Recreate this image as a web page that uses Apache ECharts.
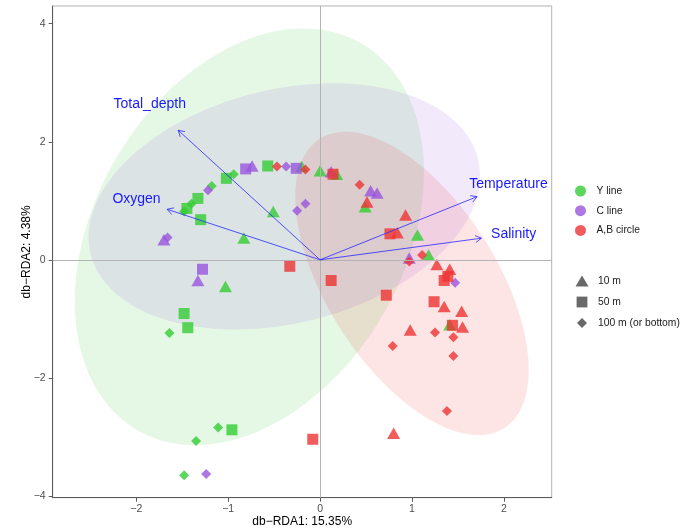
<!DOCTYPE html>
<html>
<head>
<meta charset="utf-8">
<script src="https://cdn.jsdelivr.net/npm/echarts@6/dist/echarts.min.js"></script>
<style>
  html, body { margin: 0; padding: 0; background: #ffffff; }
  #chart { width: 687px; height: 531px; }
</style>
</head>
<body>
<div id="chart"></div>
<script>
// ---- db-RDA site scores, by transect and sampling depth ----
const groupNames = ['Y line', 'C line', 'A,B circle'];
const depthNames = ['10 m', '50 m', '100 m (or bottom)'];

// Y line
const yLine10m = [[-0.20, 1.58], [0.00, 1.51], [0.18, 1.45], [-0.51, 0.82], [-0.83, 0.37],
                  [0.49, 0.90], [1.06, 0.42], [1.18, 0.08], [-1.03, -0.45], [1.41, -1.10]];
const yLine50m = [[-0.57, 1.59], [-1.02, 1.38], [-1.33, 1.04], [-1.45, 0.87], [-1.30, 0.68],
                  [-1.48, -0.91], [-1.44, -1.15], [-0.96, -2.88]];
const yLine100m = [[-0.94, 1.45], [-1.18, 1.25], [-1.40, 0.95], [-1.48, 0.82], [-1.64, -1.24],
                   [-1.11, -2.84], [-1.35, -3.07], [-1.48, -3.65]];

// C line
const cLine10m = [[-0.74, 1.59], [0.12, 1.49], [0.55, 1.17], [0.62, 1.13], [-1.70, 0.34],
                  [-1.33, -0.35], [0.97, 0.03]];
const cLine50m = [[-0.81, 1.54], [-0.26, 1.55], [-1.28, -0.16]];
const cLine100m = [[-0.37, 1.58], [-1.22, 1.18], [-0.25, 0.83], [-0.16, 0.95], [-1.66, 0.38],
                   [1.47, -0.39], [-1.24, -3.63]];

// A,B circle
const abCircle10m = [[0.51, 0.98], [0.93, 0.76], [0.84, 0.46], [1.27, -0.08], [1.41, -0.16],
                     [1.35, -0.79], [1.54, -0.87], [1.55, -1.14], [0.98, -1.19], [0.80, -2.94]];
const abCircle50m = [[0.14, 1.45], [0.76, 0.44], [-0.33, -0.11], [0.12, -0.35], [0.72, -0.60],
                     [1.39, -0.28], [1.35, -0.35], [1.24, -0.71], [1.44, -1.11], [-0.08, -3.04]];
const abCircle100m = [[-0.47, 1.58], [-0.16, 1.53], [0.43, 1.27], [0.97, -0.03], [1.11, 0.08],
                      [1.25, -1.23], [1.45, -1.31], [0.79, -1.46], [1.45, -1.63], [1.38, -2.56]];

// confidence ellipses per group: centre, half-extent along x / y, correlation
const ellipseCx = [-0.77, -0.39, 1.00];
const ellipseCy = [0.39, 0.905, -0.40];
const ellipseSx = [1.90, 2.13, 1.27];
const ellipseSy = [3.53, 2.085, 2.57];
const ellipseR  = [0.31, 0.25, -0.57];

// environmental fitted vectors
const envNames = ['Total_depth', 'Oxygen', 'Temperature', 'Salinity'];
const envX = [-1.545, -1.665, 1.708, 1.755];
const envY = [2.196, 0.856, 1.070, 0.366];

// axes
const xTicks = [-2, -1, 0, 1, 2];
const yTicks = [-4, -2, 0, 2, 4];
const xRange = [-2.91, 2.52];
const yRange = [-4.03, 4.30];

// ---- styling ----
const FONT = '"Liberation Sans", Arial, Helvetica, sans-serif';
const groupColors = ['#33CC33', '#9955DD', '#EE3333'];
const ellipseFill = ['rgba(51,204,51,0.13)', 'rgba(153,85,221,0.13)', 'rgba(238,51,51,0.13)'];
const shapeSymbols = ['triangle', 'rect', 'diamond'];
const shapeSizes = [[13, 11.5], [11, 11], [10, 10]];
const vectorLabelScale = 1.2;
const legendShapeIcons = [
  'path://M0,0M14,14M0.5,12.6L7,1.4L13.5,12.6Z',
  'path://M0,0M14,14M1.6,1.6H12.4V12.4H1.6Z',
  'path://M0,0M14,14M7,2L12,7L7,12L2,7Z'
];

const groupData = [
  [yLine10m, yLine50m, yLine100m],
  [cLine10m, cLine50m, cLine100m],
  [abCircle10m, abCircle50m, abCircle100m]
];

const minusFmt = v => (v < 0 ? '\u2212' + Math.abs(v) : String(v));

const chart = echarts.init(document.getElementById('chart'), null, { renderer: 'canvas' });

const pointSeries = groupNames.map((name, g) => {
  const items = [];
  groupData[g].forEach((pts, d) => {
    pts.forEach(p => items.push({ value: p, symbol: shapeSymbols[d], symbolSize: shapeSizes[d] }));
  });
  return {
    name: name,
    type: 'scatter',
    z: 4,
    data: items,
    itemStyle: { color: groupColors[g], opacity: 0.8 },
    emphasis: { disabled: true }
  };
});

// series that only carry the depth entries of the shape legend
const shapeLegendSeries = depthNames.map(name => ({
  name: name,
  type: 'scatter',
  data: [],
  itemStyle: { color: '#444444' }
}));

const ellipseSeries = {
  type: 'custom',
  z: 1,
  silent: true,
  data: groupNames.map((n, i) => [i]),
  renderItem: function (params, api) {
    const g = params.dataIndex;
    const pts = [];
    const k = Math.sqrt(1 - ellipseR[g] * ellipseR[g]);
    for (let s = 0; s < 120; s++) {
      const t = 2 * Math.PI * s / 120;
      const x = ellipseCx[g] + ellipseSx[g] * Math.cos(t);
      const y = ellipseCy[g] + ellipseSy[g] * (ellipseR[g] * Math.cos(t) + k * Math.sin(t));
      pts.push(api.coord([x, y]));
    }
    return { type: 'polygon', shape: { points: pts }, style: { fill: ellipseFill[g], stroke: null } };
  }
};

const zeroLineSeries = {
  type: 'line',
  z: 2,
  data: [],
  silent: true,
  markLine: {
    silent: true,
    symbol: ['none', 'none'],
    label: { show: false },
    lineStyle: { color: '#b3b3b3', width: 1, type: 'solid' },
    data: [{ xAxis: 0 }, { yAxis: 0 }]
  }
};

const vectorSeries = {
  type: 'custom',
  z: 5,
  silent: true,
  data: envNames.map((n, i) => [envX[i], envY[i]]),
  renderItem: function (params, api) {
    const i = params.dataIndex;
    const vx = api.value(0), vy = api.value(1);
    const o = api.coord([0, 0]);
    const p = api.coord([vx, vy]);
    const ang = Math.atan2(p[1] - o[1], p[0] - o[0]);
    const L = 7, A = Math.PI / 6;
    const h1 = [p[0] - L * Math.cos(ang - A), p[1] - L * Math.sin(ang - A)];
    const h2 = [p[0] - L * Math.cos(ang + A), p[1] - L * Math.sin(ang + A)];
    const t = api.coord([vx * vectorLabelScale, vy * vectorLabelScale]);
    const lineStyle = { stroke: 'rgba(40,40,255,0.8)', lineWidth: 1, fill: null };
    return {
      type: 'group',
      children: [
        { type: 'polyline', shape: { points: [o, p] }, style: lineStyle },
        { type: 'polyline', shape: { points: [h1, p, h2] }, style: lineStyle },
        { type: 'text', x: t[0], y: t[1],
          style: { text: envNames[i], fill: '#1919ff', font: '14px ' + FONT, align: 'center', verticalAlign: 'middle' } }
      ]
    };
  }
};

const option = {
  animation: false,
  backgroundColor: '#ffffff',
  textStyle: { fontFamily: FONT },
  grid: {
    left: 52.7, top: 6, right: 135.3, bottom: 33.3,
    outerBoundsMode: 'none',
    containLabel: false,
    show: true, borderColor: '#b3b3b3', borderWidth: 1, backgroundColor: 'transparent'
  },
  xAxis: {
    type: 'value',
    min: xRange[0], max: xRange[1],
    name: 'db\u2212RDA1: 15.35%',
    nameLocation: 'middle',
    nameGap: 18,
    nameMoveOverlap: false,
    nameTextStyle: { color: '#000000', fontSize: 12, fontFamily: FONT },
    splitLine: { show: false },
    axisLine: { show: true, onZero: false, lineStyle: { color: '#5a5a5a', width: 1 } },
    axisTick: { show: true, length: 4, customValues: xTicks, lineStyle: { color: '#5a5a5a' } },
    axisLabel: { customValues: xTicks, formatter: minusFmt, color: '#4d4d4d', fontSize: 10.5, margin: 6, fontFamily: FONT }
  },
  yAxis: {
    type: 'value',
    min: yRange[0], max: yRange[1],
    name: 'db\u2212RDA2: 4.38%',
    nameLocation: 'middle',
    nameGap: 20,
    nameMoveOverlap: false,
    nameTextStyle: { color: '#000000', fontSize: 12, fontFamily: FONT },
    splitLine: { show: false },
    axisLine: { show: true, onZero: false, lineStyle: { color: '#5a5a5a', width: 1 } },
    axisTick: { show: true, length: 4, customValues: yTicks, lineStyle: { color: '#5a5a5a' } },
    axisLabel: { customValues: yTicks, formatter: minusFmt, color: '#4d4d4d', fontSize: 10.5, margin: 7, fontFamily: FONT }
  },
  legend: [
    {
      orient: 'vertical',
      left: 575, top: 185.5,
      padding: 0,
      itemWidth: 22, itemHeight: 11, itemGap: 8.7,
      icon: 'circle',
      selectedMode: false,
      data: groupNames,
      textStyle: { color: '#1a1a1a', fontSize: 10.3, fontFamily: FONT }
    },
    {
      orient: 'vertical',
      left: 575, top: 274,
      padding: 0,
      itemWidth: 22, itemHeight: 14, itemGap: 7,
      selectedMode: false,
      data: depthNames.map((n, i) => ({ name: n, icon: legendShapeIcons[i] })),
      textStyle: { color: '#1a1a1a', fontSize: 10.3, fontFamily: FONT }
    }
  ],
  series: [ellipseSeries, zeroLineSeries].concat(pointSeries, shapeLegendSeries, [vectorSeries])
};

chart.setOption(option);
</script>
</body>
</html>
